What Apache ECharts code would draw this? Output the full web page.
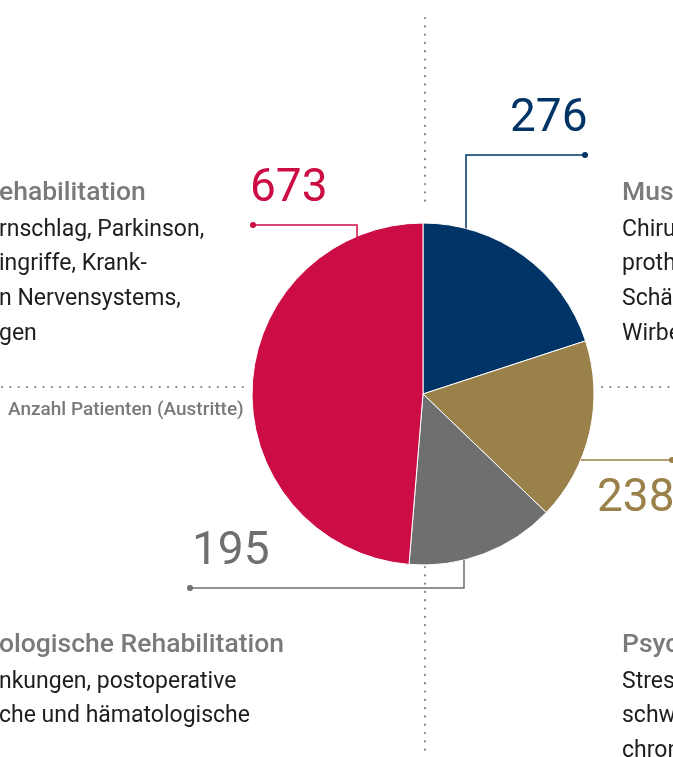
<!DOCTYPE html>
<html>
<head>
<meta charset="utf-8">
<script src="https://cdn.jsdelivr.net/npm/echarts@6/dist/echarts.min.js"></script>
<style>
  html, body { margin: 0; padding: 0; background: #fff; }
  #chart { width: 673px; height: 757px; }
</style>
</head>
<body>
<div id="chart"></div>
<script>
// slice order: clockwise from 12 o'clock
const categories = ['Muskuloskelettale Rehabilitation', 'Psychosomatische Rehabilitation', 'Onkologische Rehabilitation', 'Neurologische Rehabilitation'];
const values = [276, 238, 195, 673];
const colors = ['#003466', '#9a8049', '#6f6f6f', '#cc0c45'];
const axisNote = 'Anzahl Patienten (Austritte)';

// text blocks, cut off by the page edge as in the print layout
const topLeftText = ['ehabilitation', 'rnschlag, Parkinson,', 'ingriffe, Krank-', 'n Nervensystems,', 'gen'];
const topRightText = ['Mus', 'Chiru', 'proth', 'Schäd', 'Wirbe'];
const bottomLeftText = ['ologische Rehabilitation', 'nkungen, postoperative', 'che und hämatologische'];
const bottomRightText = ['Psyc', 'Stres', 'schw', 'chron'];

const font = 'Roboto, "Noto Sans", sans-serif';
const cx = 423, cy = 394, R = 171;

const chart = echarts.init(document.getElementById('chart'));

// point on the pie rim for a given x (top/bottom) or y (left/right)
const rimY = (x, sign) => cy + sign * Math.sqrt(R * R - (x - cx) * (x - cx));
const rimX = (y, sign) => cx + sign * Math.sqrt(R * R - (y - cy) * (y - cy));

// leader line layout per slice
const leaders = [
  { pts: [[466, rimY(466, -1)], [466, 155], [585, 155]], label: [510, 119] },
  { pts: [[rimX(460, 1), 460], [672, 460]], label: [597, 499] },
  { pts: [[464, rimY(464, 1)], [464, 588], [190, 588]], label: [192, 552] },
  { pts: [[357, 262], [357, 225], [253, 225]], label: [250, 189] },
];

const graphics = [];

// dotted guide lines
const dotted = { stroke: '#848484', lineWidth: 2.2, lineDash: [0.1, 8.2], lineCap: 'round' };
graphics.push({ type: 'line', shape: { x1: 425, y1: 18, x2: 425, y2: 208 }, style: dotted, z: 1 });
graphics.push({ type: 'line', shape: { x1: 425, y1: 567, x2: 425, y2: 757 }, style: dotted, z: 1 });
graphics.push({ type: 'line', shape: { x1: 2, y1: 387, x2: 248, y2: 387 }, style: dotted, z: 1 });
graphics.push({ type: 'line', shape: { x1: 602, y1: 387, x2: 673, y2: 387 }, style: dotted, z: 1 });

graphics.push({
  type: 'text', x: 8, y: 410, z: 5,
  style: { text: axisNote, font: `500 19px ${font}`, fill: '#7a7a7a', textVerticalAlign: 'middle' },
});

// value labels with leader lines
values.forEach((v, i) => {
  const l = leaders[i];
  const end = l.pts[l.pts.length - 1];
  graphics.push({
    type: 'polyline', z: 10,
    shape: { points: l.pts },
    style: { stroke: colors[i], lineWidth: 1.5, fill: null },
  });
  graphics.push({
    type: 'circle', z: 10,
    shape: { cx: end[0], cy: end[1], r: 3 },
    style: { fill: colors[i] },
  });
  graphics.push({
    type: 'text', z: 10,
    x: l.label[0], y: l.label[1],
    style: { text: String(v), font: `46px ${font}`, fill: colors[i], textVerticalAlign: 'middle' },
  });
});

// descriptive text blocks
const addBlock = (lines, x, y) => {
  lines.forEach((t, k) => {
    graphics.push({
      type: 'text', z: 5, x, y: y + (k === 0 ? 0 : 37 + (k - 1) * 34.7),
      style: {
        text: t,
        font: k === 0 ? `500 26.5px ${font}` : `23px ${font}`,
        fill: k === 0 ? '#7a7a7a' : '#1e1e1e',
        textVerticalAlign: 'middle',
      },
    });
  });
};
addBlock(topLeftText, -1, 193);
addBlock(topRightText, 622, 193);
addBlock(bottomLeftText, -1, 645);
addBlock(bottomRightText, 622, 645);

chart.setOption({
  animation: false,
  series: [{
    type: 'pie',
    center: [cx, cy],
    radius: R,
    startAngle: 90,
    clockwise: true,
    label: { show: false },
    labelLine: { show: false },
    itemStyle: { borderColor: '#fff', borderWidth: 1 },
    data: categories.map((name, i) => ({ name, value: values[i], itemStyle: { color: colors[i] } })),
    z: 3,
  }],
  graphic: { elements: graphics },
});
</script>
</body>
</html>
